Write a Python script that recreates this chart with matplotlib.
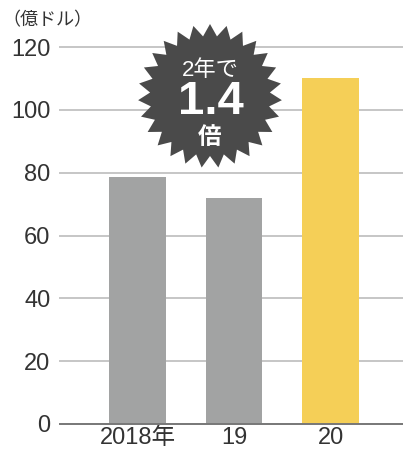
import numpy as np
import matplotlib

matplotlib.use("Agg")
import matplotlib.pyplot as plt
from matplotlib.patches import Polygon

plt.rcParams["font.family"] = ["Liberation Sans", "Noto Sans CJK JP", "DejaVu Sans"]

# revenue, 100 million USD
years = ["2018年", "19", "20"]
values = [78.5, 72, 110]
bar_colors = ["#a2a3a3", "#a2a3a3", "#f5cf57"]
y_ticks = [0, 20, 40, 60, 80, 100, 120]

W, H = 403, 457
fig = plt.figure(figsize=(W / 100, H / 100), dpi=100)
ax = fig.add_axes([60 / W, (H - 424) / H, 343 / W, 377 / H])

x = np.arange(len(years))
ax.bar(x, values, width=0.59, color=bar_colors, zorder=2)

ax.set_xlim(-0.803, 2.751)
ax.set_ylim(0, 120)
ax.set_yticks(y_ticks)
ax.set_xticks(x)
ax.set_xticklabels(years)
ax.tick_params(axis="both", length=0, labelsize=17, colors="#333333")
ax.tick_params(axis="y", pad=7)
ax.tick_params(axis="x", pad=2)
for t in y_ticks[1:]:
    ax.axhline(t, color="#c6c6c6", lw=1.4, zorder=1, clip_on=False)
for s in ["top", "right", "left"]:
    ax.spines[s].set_visible(False)
ax.spines["bottom"].set_color("#777777")
ax.spines["bottom"].set_linewidth(1.4)
ax.spines["bottom"].set_zorder(3)

fig.text(2 / W, 1 - 21 / H, "（億ドル）", fontsize=13, color="#333333",
         ha="left", va="center")

# starburst badge, built in inches so it stays round
cx, cy = 210 / 100, (H - 96) / 100
n_pts = 27
ang = np.linspace(0, 2 * np.pi, 2 * n_pts, endpoint=False) + np.pi / 2
rad = np.where(np.arange(2 * n_pts) % 2 == 0, 0.72, 0.6)
verts = np.column_stack([cx + rad * np.cos(ang), cy + rad * np.sin(ang)])
star = Polygon(verts, closed=True, facecolor="#4a4a4a", edgecolor="none",
               transform=fig.dpi_scale_trans, zorder=5)
fig.patches.append(star)

fig.text(cx * 100 / W, 1 - 70 / H, "2年で", fontsize=16, color="white",
         ha="center", va="center", zorder=6)
fig.text(cx * 100 / W + 0.002, 1 - 102 / H, "1.4", fontsize=34, color="white",
         fontweight="bold", ha="center", va="center", zorder=6)
fig.text(cx * 100 / W, 1 - 137 / H, "倍", fontsize=17, color="white",
         fontweight="bold", ha="center", va="center", zorder=6)

fig.savefig("out.png", dpi=100)
